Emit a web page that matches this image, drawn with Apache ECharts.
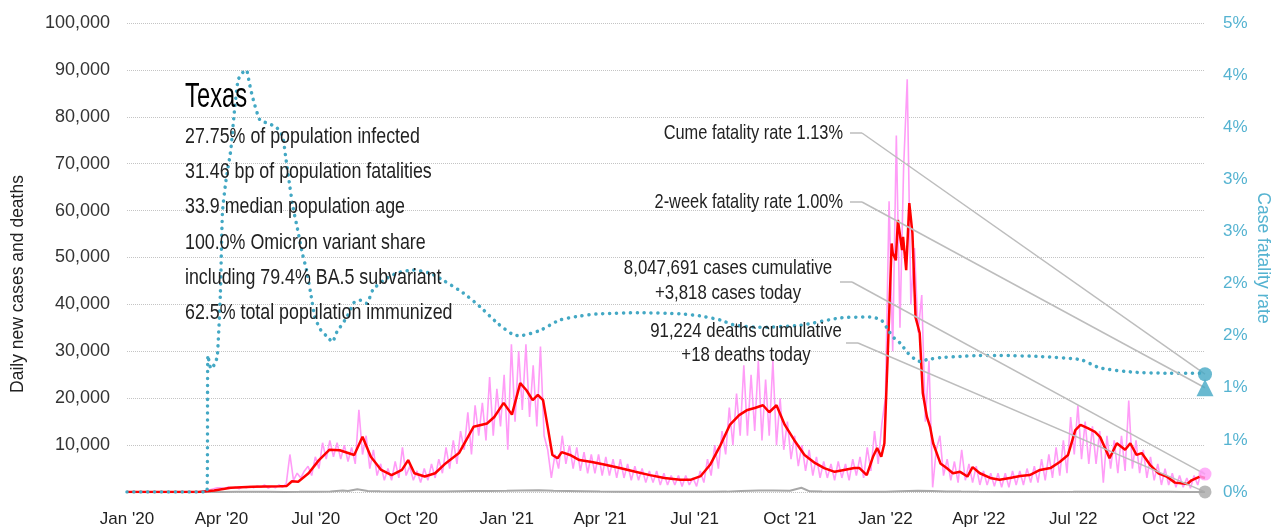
<!DOCTYPE html>
<html>
<head>
<meta charset="utf-8">
<title>Texas daily cases</title>
<script src="https://cdn.jsdelivr.net/npm/echarts@6.0.0/dist/echarts.min.js"></script>
<style>
  html, body { margin: 0; padding: 0; background: #fff; }
  #chart { width: 1283px; height: 531px; }
</style>
</head>
<body>
<div id="chart"></div>
<script>
// ---- data ----
const startDate = '2020-01-01'
const endDate = '2022-11-05'

// 7-day average of new cases (red)
const caseAvg = [
  ['2020-01-01', 0], ['2020-03-10', 0], ['2020-03-25', 300], ['2020-04-10', 900], ['2020-05-01', 1100],
  ['2020-05-27', 1200], ['2020-06-03', 1300], ['2020-06-08', 2300], ['2020-06-14', 2200], ['2020-06-24', 4000],
  ['2020-07-04', 6800], ['2020-07-14', 9000], ['2020-07-24', 8900], ['2020-08-07', 7900], ['2020-08-15', 11800],
  ['2020-08-23', 7500], ['2020-09-02', 4700], ['2020-09-12', 3600], ['2020-09-22', 4700], ['2020-09-28', 6800],
  ['2020-10-04', 4000], ['2020-10-14', 3300], ['2020-10-24', 4000], ['2020-11-03', 6100], ['2020-11-16', 8300],
  ['2020-11-30', 13900], ['2020-12-13', 14600], ['2020-12-20', 16000], ['2020-12-29', 19000], ['2021-01-06', 16500],
  ['2021-01-14', 23200], ['2021-01-20', 21700], ['2021-01-26', 19600], ['2021-01-31', 20700], ['2021-02-05', 19600],
  ['2021-02-10', 13200], ['2021-02-14', 7900], ['2021-02-19', 7200], ['2021-02-23', 8500], ['2021-03-03', 7900],
  ['2021-03-12', 6800], ['2021-03-24', 6400], ['2021-04-06', 5800], ['2021-04-20', 5100], ['2021-05-05', 4300],
  ['2021-05-19', 3600], ['2021-06-02', 3000], ['2021-06-17', 2600], ['2021-06-27', 2600], ['2021-07-07', 3400],
  ['2021-07-16', 5800], ['2021-07-26', 10000], ['2021-08-04', 14300], ['2021-08-13', 16400], ['2021-08-21', 17500],
  ['2021-08-28', 17900], ['2021-09-05', 18500], ['2021-09-11', 17000], ['2021-09-18', 18500], ['2021-09-26', 14300],
  ['2021-10-05', 11100], ['2021-10-15', 7900], ['2021-10-25', 6200], ['2021-11-03', 5100], ['2021-11-13', 4300],
  ['2021-11-22', 4700], ['2021-12-02', 5100], ['2021-12-07', 5100], ['2021-12-14', 3600], ['2021-12-20', 7500],
  ['2021-12-24', 9400], ['2021-12-28', 7500], ['2021-12-31', 10400], ['2022-01-03', 28000], ['2022-01-07', 53000],
  ['2022-01-08', 51000], ['2022-01-11', 49400], ['2022-01-13', 58000], ['2022-01-17', 51600], ['2022-01-18', 54400],
  ['2022-01-21', 47300], ['2022-01-24', 61600], ['2022-01-27', 55200], ['2022-01-30', 37300], ['2022-02-03', 33900],
  ['2022-02-06', 21100], ['2022-02-10', 16000], ['2022-02-13', 13900], ['2022-02-16', 10400], ['2022-02-23', 6100],
  ['2022-03-01', 5100], ['2022-03-07', 4000], ['2022-03-14', 4300], ['2022-03-21', 3300], ['2022-03-26', 5300],
  ['2022-04-02', 4000], ['2022-04-12', 3000], ['2022-04-21', 2600], ['2022-05-01', 3000], ['2022-05-11', 3400],
  ['2022-05-20', 3600], ['2022-05-30', 4700], ['2022-06-09', 5100], ['2022-06-18', 6400], ['2022-06-26', 7900],
  ['2022-07-03', 13200], ['2022-07-08', 14300], ['2022-07-15', 13600], ['2022-07-22', 12800], ['2022-07-27', 11700],
  ['2022-08-05', 7200], ['2022-08-12', 10400], ['2022-08-20', 9000], ['2022-08-25', 10400], ['2022-08-31', 7900],
  ['2022-09-05', 8300], ['2022-09-13', 5800], ['2022-09-21', 4000], ['2022-09-29', 3300], ['2022-10-07', 2000],
  ['2022-10-19', 1700], ['2022-10-23', 2500], ['2022-10-31', 3300], ['2022-11-05', 3000]
]

// daily new cases (pink), one value every 3.5 days from dailyStart, 8 values = 4 weeks per row
const dailyStart = '2020-03-03T12:00:00'
const dailyStepDays = 3.5
const dailyCases = [
  0, 0, 50, 150, 300, 500, 700, 900,
  900, 700, 1100, 800, 1000, 700, 1100, 900,
  1200, 900, 1300, 1000, 1500, 800, 1200, 900,
  1500, 1000, 1800, 8000, 2500, 4000, 3000, 4500,
  5500, 3500, 7500, 5000, 10500, 7000, 11000, 7500,
  10500, 7000, 10000, 6500, 9500, 6000, 17500, 8000,
  12000, 5000, 9000, 3500, 6000, 2500, 5000, 2500,
  6500, 3000, 9500, 3500, 5500, 2500, 4500, 2000,
  5000, 2500, 6000, 3000, 7000, 4000, 9500, 5000,
  11000, 6000, 13000, 9000, 17000, 8000, 18500, 12000,
  19000, 11000, 24500, 12000, 22000, 14000, 25000, 9000,
  31500, 15000, 30000, 17500, 31500, 16000, 27000, 14000,
  31000, 12000, 9000, 3000, 8000, 5000, 12000, 6000,
  10000, 5000, 9500, 4500, 8500, 4000, 8000, 4000,
  8000, 3500, 7500, 3500, 7000, 3000, 7000, 3000,
  6000, 2500, 5500, 2500, 5000, 2000, 4500, 2000,
  4500, 1500, 4000, 1500, 3500, 1500, 3500, 1200,
  3500, 1500, 3000, 1200, 4500, 2000, 7000, 3500,
  10000, 5000, 13000, 8000, 18000, 10000, 21000, 12000,
  27000, 12000, 25000, 13000, 28000, 11000, 24000, 12000,
  28000, 10000, 20000, 9000, 15000, 7000, 12000, 5500,
  10000, 4500, 9000, 3500, 7500, 3000, 6500, 3000,
  6000, 2500, 6500, 3000, 6000, 2500, 7000, 3500,
  7500, 3000, 9500, 4500, 13000, 6000, 14500, 20000,
  62000, 30000, 76000, 35000, 69000, 88000, 40000, 52000,
  34000, 42000, 15000, 28000, 1000, 9000, 12000, 3500,
  7000, 2500, 6500, 2000, 9000, 2500, 6000, 2000,
  5500, 1500, 4500, 1500, 4000, 1200, 4000, 1000,
  4000, 1000, 4500, 1500, 4500, 1500, 5000, 2000,
  5500, 2000, 7000, 2500, 8000, 3000, 9500, 3500,
  11000, 4000, 16000, 8000, 18500, 7000, 15000, 6000,
  14000, 6000, 13000, 2000, 12000, 5000, 11000, 4000,
  12000, 4500, 19500, 5000, 11000, 4000, 9000, 3000,
  7500, 2500, 6000, 1500, 5000, 1500, 4000, 1000,
  3500, 1000, 3000, 800, 3500, 1500, 4500, 3818
]

// daily deaths (grey)
const deaths = [
  ['2020-01-01', 0], ['2020-03-15', 0], ['2020-04-01', 20], ['2020-04-15', 40], ['2020-05-01', 35],
  ['2020-05-15', 30], ['2020-06-01', 25], ['2020-06-15', 30], ['2020-07-01', 50], ['2020-07-15', 120],
  ['2020-07-27', 300], ['2020-08-01', 200], ['2020-08-10', 600], ['2020-08-20', 220], ['2020-09-01', 150],
  ['2020-09-15', 120], ['2020-10-01', 100], ['2020-10-15', 80], ['2020-11-01', 90], ['2020-11-15', 150],
  ['2020-12-01', 200], ['2020-12-15', 230], ['2021-01-01', 280], ['2021-01-15', 330], ['2021-02-01', 350],
  ['2021-02-15', 250], ['2021-03-01', 200], ['2021-03-15', 150], ['2021-04-01', 80], ['2021-04-15', 60],
  ['2021-05-01', 50], ['2021-06-01', 40], ['2021-07-01', 30], ['2021-07-15', 40], ['2021-08-01', 80],
  ['2021-08-15', 200], ['2021-09-01', 300], ['2021-09-15', 330], ['2021-10-01', 250], ['2021-10-12', 900],
  ['2021-10-20', 150], ['2021-11-01', 100], ['2021-12-01', 60], ['2022-01-01', 70], ['2022-01-15', 150],
  ['2022-02-01', 250], ['2022-02-15', 200], ['2022-03-01', 120], ['2022-03-15', 80], ['2022-04-01', 40],
  ['2022-05-01', 20], ['2022-06-01', 20], ['2022-07-01', 30], ['2022-07-15', 50], ['2022-08-01', 60],
  ['2022-08-15', 70], ['2022-09-01', 55], ['2022-10-01', 35], ['2022-10-15', 25], ['2022-11-05', 18]
]

// case fatality rate in percent (teal, dotted)
const cfr = [
  ['2020-01-01', 0], ['2020-03-18', 0], ['2020-03-19', 1.31], ['2020-03-22', 1.18], ['2020-03-25', 1.22],
  ['2020-03-28', 1.3], ['2020-03-31', 1.91], ['2020-04-02', 2.68], ['2020-04-05', 2.96], ['2020-04-10', 3.28],
  ['2020-04-13', 3.6], ['2020-04-17', 3.95], ['2020-04-21', 4.02], ['2020-04-25', 4.05], ['2020-04-28', 3.92],
  ['2020-05-01', 3.79], ['2020-05-08', 3.57], ['2020-05-15', 3.54], ['2020-05-24', 3.5], ['2020-05-30', 3.41],
  ['2020-06-02', 3.21], ['2020-06-06', 2.93], ['2020-06-09', 2.73], ['2020-06-13', 2.54], ['2020-06-18', 2.29],
  ['2020-06-22', 2.13], ['2020-06-26', 1.91], ['2020-06-30', 1.68], ['2020-07-06', 1.55], ['2020-07-12', 1.49],
  ['2020-07-17', 1.44], ['2020-07-21', 1.53], ['2020-07-31', 1.68], ['2020-08-07', 1.82], ['2020-08-13', 1.84],
  ['2020-08-19', 1.81], ['2020-08-25', 1.94], ['2020-09-04', 2.03], ['2020-09-17', 2.1], ['2020-10-03', 2.13],
  ['2020-10-19', 2.1], ['2020-11-01', 2.03], ['2020-11-20', 1.91], ['2020-12-06', 1.78], ['2020-12-23', 1.62],
  ['2021-01-07', 1.51], ['2021-01-14', 1.5], ['2021-02-02', 1.55], ['2021-02-21', 1.65], ['2021-03-13', 1.69],
  ['2021-04-01', 1.71], ['2021-05-09', 1.72], ['2021-06-17', 1.71], ['2021-07-06', 1.69], ['2021-07-26', 1.65],
  ['2021-08-09', 1.6], ['2021-09-02', 1.58], ['2021-10-11', 1.6], ['2021-11-18', 1.67], ['2021-12-17', 1.68],
  ['2021-12-28', 1.65], ['2022-01-04', 1.55], ['2022-01-08', 1.49], ['2022-01-15', 1.43], ['2022-01-23', 1.33],
  ['2022-01-30', 1.27], ['2022-02-04', 1.25], ['2022-02-10', 1.27], ['2022-02-23', 1.29], ['2022-03-14', 1.3],
  ['2022-04-02', 1.31], ['2022-04-21', 1.31], ['2022-05-30', 1.3], ['2022-07-08', 1.27], ['2022-07-27', 1.19],
  ['2022-08-28', 1.15], ['2022-09-29', 1.14], ['2022-10-31', 1.14], ['2022-11-05', 1.13]
]

// latest values shown by the end markers
const cumeCfr = 1.13
const twoWeekCfr = 1.00
const casesToday = 3818
const deathsToday = 18

// quarter starts used as x tick labels
const quarterTicks = [
  '2020-01-01', '2020-04-01', '2020-07-01', '2020-10-01',
  '2021-01-01', '2021-04-01', '2021-07-01', '2021-10-01',
  '2022-01-01', '2022-04-01', '2022-07-01', '2022-10-01'
]
const monthNames = ['Jan', 'Feb', 'Mar', 'Apr', 'May', 'Jun', 'Jul', 'Aug', 'Sep', 'Oct', 'Nov', 'Dec']

const stateName = 'Texas'
const stateFacts = [
  '27.75% of population infected',
  '31.46 bp of population fatalities',
  '33.9 median population age',
  '100.0% Omicron variant share',
  'including 79.4% BA.5 subvariant',
  '62.5% total population immunized'
]
const cumeCfrLabel = 'Cume fatality rate 1.13%'
const twoWeekCfrLabel = '2-week fatality rate 1.00%'
const casesLabel = '8,047,691 cases cumulative\n+3,818 cases today'
const deathsLabel = '91,224 deaths cumulative\n+18 deaths today'

// ---- chart ----
// no condensed face installed: use Liberation Sans and squeeze the free texts horizontally
const SANS = "'Liberation Sans', Arial, sans-serif"
const TEAL = '#43a8c4'
const TEAL_TEXT = '#55b3d1'
const PINK = '#ff9cf7'
const LEADER = '#bdbdbd'
const INK = '#222'

// dates -> timestamps (x axis is a plain value axis in ms)
const ts = (d) => new Date(d.length === 10 ? d + 'T00:00:00' : d).getTime()
const toXY = (rows) => rows.map(([d, v]) => [ts(d), v])

const dailyT0 = ts(dailyStart)
const dailyData = dailyCases.map((v, i) => [dailyT0 + i * dailyStepDays * 86400000, v])
const endT = ts(endDate)

function leader(fromX, fromY, stubX, toCoord) {
  return [
    [{ x: fromX, y: fromY }, { x: stubX, y: fromY }],
    [{ x: stubX, y: fromY }, { coord: toCoord }]
  ]
}

const leaderLine = (lines) => ({
  silent: true,
  symbol: ['none', 'none'],
  label: { show: false },
  lineStyle: { color: LEADER, width: 1.5, type: 'solid' },
  emphasis: { disabled: true },
  data: lines
})

// narrow text block element
function narrowText(text, x, y, size, squeeze, align, extra) {
  return {
    type: 'text', x: x, y: y, scaleX: squeeze, z: 10,
    style: Object.assign({ text: text, font: size + 'px ' + SANS, fill: INK, align: align, verticalAlign: 'middle' }, extra || {})
  }
}

const chart = echarts.init(document.getElementById('chart'))

const option = {
  animation: false,
  backgroundColor: '#fff',
  grid: { left: 127, right: 78, top: 23, bottom: 39 },
  xAxis: {
    type: 'value',
    min: ts(startDate),
    max: endT,
    axisLine: { show: false },
    axisTick: { show: false },
    splitLine: { show: false },
    axisLabel: {
      customValues: quarterTicks.map(ts),
      formatter: (value) => {
        const d = new Date(value)
        return monthNames[d.getMonth()] + " '" + String(d.getFullYear()).slice(2)
      },
      fontFamily: SANS,
      fontSize: 17,
      color: INK,
      margin: 19,
      hideOverlap: false
    }
  },
  yAxis: [
    {
      type: 'value',
      min: 0,
      max: 100000,
      interval: 10000,
      axisLine: { show: false },
      axisTick: { show: false },
      splitLine: { lineStyle: { color: '#c4c4c4', type: 'dotted', width: 1 } },
      axisLabel: {
        formatter: (v) => (v === 0 ? '' : v.toLocaleString('en-US')),
        fontFamily: SANS,
        fontSize: 18,
        color: '#333',
        margin: 17
      }
    },
    {
      type: 'value',
      min: 0,
      max: 4.5,
      interval: 0.5,
      position: 'right',
      axisLine: { show: false },
      axisTick: { show: false },
      splitLine: { show: false },
      axisLabel: {
        formatter: (v) => Math.round(v) + '%',
        fontFamily: SANS,
        fontSize: 17,
        color: TEAL_TEXT,
        margin: 18
      }
    }
  ],
  series: [
    {
      name: 'Daily cases',
      type: 'line',
      data: dailyData,
      symbol: 'none',
      lineStyle: { color: PINK, width: 1.6 },
      z: 1
    },
    {
      name: 'Deaths',
      type: 'line',
      data: toXY(deaths),
      symbol: 'none',
      lineStyle: { color: '#a8a8a8', width: 2 },
      z: 2
    },
    {
      name: '7-day average',
      type: 'line',
      data: toXY(caseAvg),
      symbol: 'none',
      lineStyle: { color: '#ff0000', width: 2.5 },
      z: 3
    },
    {
      name: 'Case fatality rate',
      type: 'line',
      yAxisIndex: 1,
      data: toXY(cfr),
      symbol: 'none',
      smooth: 0.2,
      lineStyle: { color: TEAL, width: 3.5, type: [0.1, 6.8], cap: 'round' },
      z: 4
    },
    // end markers with their leader lines
    {
      name: 'Cume CFR',
      type: 'scatter',
      yAxisIndex: 1,
      data: [[endT, cumeCfr]],
      symbol: 'circle',
      symbolSize: 14,
      itemStyle: { color: TEAL },
      markLine: leaderLine(leader(850, 133, 862, [endT, cumeCfr])),
      z: 6
    },
    {
      name: '2-week CFR',
      type: 'scatter',
      yAxisIndex: 1,
      data: [[endT, twoWeekCfr]],
      symbol: 'triangle',
      symbolSize: 17,
      itemStyle: { color: TEAL },
      markLine: leaderLine(leader(850, 202, 862, [endT, twoWeekCfr])),
      z: 6
    },
    {
      name: 'Cases today',
      type: 'scatter',
      data: [[endT, casesToday]],
      symbol: 'circle',
      symbolSize: 13,
      itemStyle: { color: PINK },
      markLine: leaderLine(leader(840, 282, 852, [endT, casesToday])),
      z: 6
    },
    {
      name: 'Deaths today',
      type: 'scatter',
      data: [[endT, deathsToday]],
      symbol: 'circle',
      symbolSize: 13,
      itemStyle: { color: '#a8a8a8' },
      markLine: leaderLine(leader(846, 343, 858, [endT, deathsToday])),
      z: 6
    }
  ],
  graphic: [
    {
      type: 'text', x: 18, y: 284, rotation: Math.PI / 2,
      style: { text: 'Daily new cases and deaths', font: '17.5px ' + SANS, fill: INK, align: 'center', verticalAlign: 'middle' }
    },
    {
      type: 'text', x: 1263, y: 258, rotation: -Math.PI / 2,
      style: { text: 'Case fatality rate', font: '17.5px ' + SANS, fill: TEAL_TEXT, align: 'center', verticalAlign: 'middle' }
    },
    narrowText(stateName, 185, 97, 35, 0.68, 'left', { fill: '#000' }),
    ...stateFacts.map((t, i) => narrowText(t, 185, 137 + i * 35.2, 22, 0.81, 'left')),
    narrowText(cumeCfrLabel, 843, 133, 21, 0.78, 'right'),
    narrowText(twoWeekCfrLabel, 843, 202, 21, 0.78, 'right'),
    narrowText(casesLabel, 728, 281, 21, 0.8, 'center', { lineHeight: 25 }),
    narrowText(deathsLabel, 746, 343, 21, 0.8, 'center', { lineHeight: 24 })
  ]
}

chart.setOption(option)
</script>
</body>
</html>
